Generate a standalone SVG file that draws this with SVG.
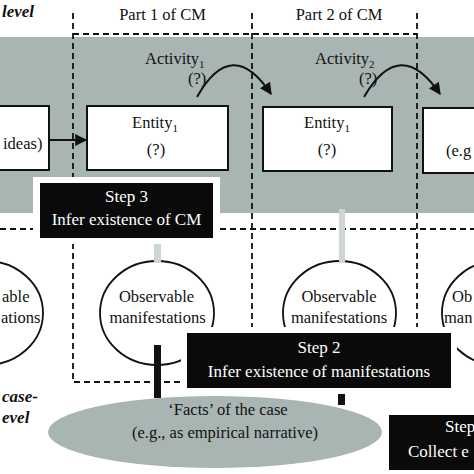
<svg xmlns="http://www.w3.org/2000/svg" width="474" height="474" viewBox="0 0 474 474">
<defs>
<style>
text{font-family:"Liberation Serif","Times New Roman",serif;font-size:16.5px;fill:#111}
.lvl{font-weight:bold;font-style:italic;font-size:17px}
.sub{font-size:11px}
.box{fill:#fff;stroke:#111;stroke-width:2}
.ell{fill:#fff;stroke:#111;stroke-width:1.8}
.dash{fill:none;stroke:#111;stroke-width:1.8;stroke-dasharray:6 4}
.step{fill:#0a0a0a}
.halo{fill:#fff}
.wt{fill:#fff;font-size:17px}
.conn{fill:none;stroke:#111;stroke-width:2}
.lbar{fill:#cdd6d5}
.dbar{fill:#111}
</style>
<marker id="ah" viewBox="0 0 10 10" refX="9" refY="5" markerWidth="13" markerHeight="12" markerUnits="userSpaceOnUse" orient="auto"><path d="M0,0 L10,5 L0,10 z" fill="#111"/></marker>
</defs>
<rect width="474" height="474" fill="#fff"/>
<g id="band"><rect x="0" y="37" width="474" height="176" fill="#a9b5b3"/></g>
<g id="frames">
<path class="dash" d="M73,34 H417 M73,13 V382 H183 M252,13 V327 M417,13 V327 M0,229 H474"/>
</g>
<g id="labels">
<text class="lvl" x="2" y="17">level</text>
<text x="162.5" y="20" text-anchor="middle">Part 1 of CM</text>
<text x="339" y="20" text-anchor="middle">Part 2 of CM</text>
<text class="lvl" x="2" y="402">case-</text>
<text class="lvl" x="2" y="423">evel</text>
</g>
<g id="activity1">
<text x="145" y="64">Activity<tspan class="sub" dy="4">1</tspan></text>
<text x="188" y="84">(?)</text>
</g>
<g id="activity2">
<text x="315" y="64">Activity<tspan class="sub" dy="4">2</tspan></text>
<text x="359" y="84">(?)</text>
</g>
<g id="node-ideas">
<rect class="box" x="-10" y="106" width="59" height="64"/>
<text x="3" y="149">ideas)</text>
</g>
<g id="node-entity1a">
<rect class="box" x="87" y="106" width="141" height="64"/>
<text x="155" y="128" text-anchor="middle">Entity<tspan class="sub" dy="4">1</tspan></text>
<text x="156" y="155" text-anchor="middle">(?)</text>
</g>
<g id="node-entity1b">
<rect class="box" x="263" y="107" width="129" height="64"/>
<text x="327" y="128" text-anchor="middle">Entity<tspan class="sub" dy="4">1</tspan></text>
<text x="327" y="155" text-anchor="middle">(?)</text>
</g>
<g id="node-eg">
<rect class="box" x="423" y="108" width="60" height="65"/>
<text x="446" y="156">(e.g</text>
</g>
<g id="connectors">
<path class="conn" d="M197,97 Q232,35 271,94" marker-end="url(#ah)"/>
<path class="conn" d="M364,97 Q400,35 440,94" marker-end="url(#ah)"/>
<path class="conn" d="M49,140 H86" marker-end="url(#ah)"/>
<rect class="lbar" x="339" y="209" width="6" height="53"/>
<rect class="lbar" x="154" y="238" width="7" height="24"/>
<rect class="dbar" x="154" y="345" width="7" height="53"/>
<rect class="dbar" x="338" y="394" width="7" height="11"/>
</g>
<g id="node-obs1">
<ellipse class="ell" cx="-14" cy="313" rx="57" ry="52"/>
<text x="2" y="302">able</text>
<text x="1" y="323">ations</text>
</g>
<g id="node-obs2">
<ellipse class="ell" cx="157" cy="313" rx="57" ry="52"/>
<rect class="lbar" x="154" y="255" width="7" height="8"/>
<rect class="dbar" x="154" y="345" width="7" height="22"/>
<text x="156.5" y="302" text-anchor="middle">Observable</text>
<text x="157.5" y="323" text-anchor="middle">manifestations</text>
</g>
<g id="node-obs3">
<ellipse class="ell" cx="339.5" cy="313" rx="56.5" ry="52"/>
<rect class="lbar" x="339" y="255" width="6" height="8"/>
<text x="339" y="302" text-anchor="middle">Observable</text>
<text x="339" y="323" text-anchor="middle">manifestations</text>
</g>
<g id="node-obs4">
<ellipse class="ell" cx="498" cy="313" rx="56" ry="52"/>
<text x="452" y="302">Ob</text>
<text x="444" y="323">man</text>
</g>
<g id="node-step3">
<rect class="halo" x="33" y="177" width="187" height="67"/>
<rect class="step" x="40" y="183" width="173" height="55"/>
<text class="wt" x="126.5" y="202" text-anchor="middle">Step 3</text>
<text class="wt" x="126.5" y="225" text-anchor="middle">Infer existence of CM</text>
</g>
<g id="node-step2">
<rect class="halo" x="181" y="327" width="276" height="67"/>
<rect class="step" x="187" y="333" width="264" height="55"/>
<text class="wt" x="319" y="353" text-anchor="middle">Step 2</text>
<text class="wt" x="319" y="377" text-anchor="middle">Infer existence of manifestations</text>
</g>
<g id="node-facts">
<ellipse cx="215" cy="432" rx="167" ry="36" fill="#a9b5b3"/>
<text x="228" y="415" text-anchor="middle">‘Facts’ of the case</text>
<text x="225" y="438" text-anchor="middle">(e.g., as empirical narrative)</text>
</g>
<g id="node-step1">
<rect class="halo" x="384" y="409" width="100" height="67"/>
<rect class="step" x="389" y="415" width="95" height="55"/>
<text class="wt" x="445" y="432">Step</text>
<text class="wt" x="408" y="457">Collect e</text>
</g>
</svg>
